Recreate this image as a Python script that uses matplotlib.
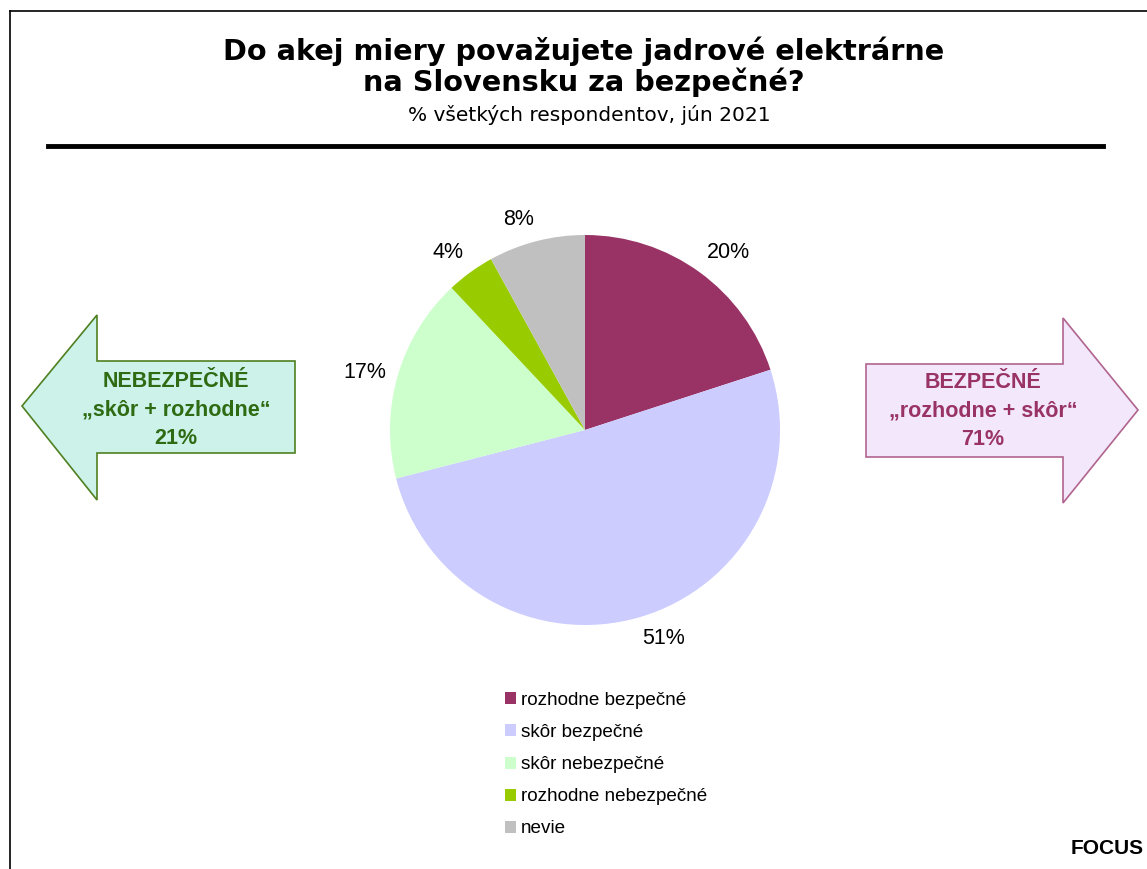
import matplotlib.pyplot as plt
from matplotlib.patches import Polygon, Patch
from matplotlib.lines import Line2D

# data
categories = ['rozhodne bezpečné', 'skôr bezpečné', 'skôr nebezpečné',
              'rozhodne nebezpečné', 'nevie']
values = [20, 51, 17, 4, 8]
colors = ['#993366', '#CCCCFF', '#CCFFCC', '#99CC00', '#C0C0C0']

title = 'Do akej miery považujete jadrové elektrárne\nna Slovensku za bezpečné?'
subtitle = '% všetkých respondentov, jún 2021'
left_text = 'NEBEZPEČNÉ\n„skôr + rozhodne“\n21%'
right_text = 'BEZPEČNÉ\n„rozhodne + skôr“\n71%'

W, H = 1147, 869
fig = plt.figure(figsize=(W / 100, H / 100), dpi=100)

# overlay axes in pixel coords for frame, rule and arrows
bg = fig.add_axes([0, 0, 1, 1])
bg.set_xlim(0, W)
bg.set_ylim(H, 0)
bg.axis('off')

bg.add_line(Line2D([10, W], [11, 11], color='black', lw=1.2))
bg.add_line(Line2D([9.5, 9.5], [11, H], color='black', lw=1.2))
bg.add_line(Line2D([48, 1103], [145.5, 145.5], color='black', lw=3.5))

bg.text(584, 67, title, ha='center', va='center', fontsize=20.7,
        fontweight='bold', family='DejaVu Sans', linespacing=1.05)
bg.text(589, 115, subtitle, ha='center', va='center', fontsize=14.5,
        family='DejaVu Sans')

# left arrow
left_arrow = [(22, 406), (97, 315), (97, 361), (295, 361), (295, 453),
              (97, 453), (97, 500)]
bg.add_patch(Polygon(left_arrow, closed=True, facecolor='#CCF2EA',
                     edgecolor='#4F8020', lw=1.2))
bg.text(176, 410, left_text, ha='center', va='center', fontsize=15.5,
        fontweight='bold', color='#2F6B12', family='Liberation Sans',
        linespacing=1.45)

# right arrow
right_arrow = [(866, 364), (1063, 364), (1063, 318), (1138, 410),
               (1063, 503), (1063, 457), (866, 457)]
bg.add_patch(Polygon(right_arrow, closed=True, facecolor='#F3E8FB',
                     edgecolor='#B0648E', lw=1.2))
bg.text(983, 411, right_text, ha='center', va='center', fontsize=15.5,
        fontweight='bold', color='#993366', family='Liberation Sans',
        linespacing=1.45)

bg.text(1144, 848, 'FOCUS', ha='right', va='center', fontsize=15,
        fontweight='bold', family='Liberation Sans')

# pie
cx, cy, r = 585, 430, 195
ax = fig.add_axes([(cx - r) / W, (H - cy - r) / H, 2 * r / W, 2 * r / H])
wedges, texts = ax.pie(
    values, colors=colors, startangle=90, counterclock=False,
    labels=[f'{v}%' for v in values], labeldistance=1.06,
    textprops={'fontsize': 15.5, 'family': 'Liberation Sans'})
# outside-end style: box corner sits on the label circle
for t in texts:
    x, y = t.get_position()
    if abs(y) < 0.4:
        t.set_va('center')
    else:
        t.set_va('bottom' if y > 0 else 'top')
ax.set_xlim(-1, 1)
ax.set_ylim(-1, 1)
ax.set_aspect('equal')

handles = [Patch(facecolor=c, edgecolor='none') for c in colors]
fig.legend(handles, categories, loc='upper left',
           bbox_to_anchor=(488 / W, 1 - 675 / H), frameon=False,
           prop={'family': 'Liberation Sans', 'size': 13.6},
           handlelength=0.6, handleheight=0.6, handletextpad=0.25,
           labelspacing=0.8)

fig.savefig('out.png', dpi=100)
